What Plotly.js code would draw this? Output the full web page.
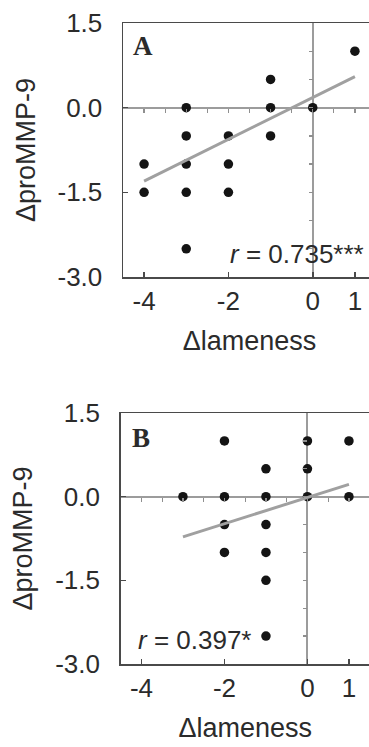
<!DOCTYPE html>
<html><head><meta charset="utf-8">
<script src="https://cdn.plot.ly/plotly-3.0.1.min.js"></script>
<style>html,body{margin:0;padding:0;overflow:hidden;background:#fff;}#chart{width:380px;height:747px;}</style>
</head><body><div id="chart"></div>
<script>
// Panel A data
const lamenessA = [-4,-4,-3,-3,-3,-3,-3,-2,-2,-2,-1,-1,-1,0,1];
const mmpA      = [-1,-1.5,0,-0.5,-1,-1.5,-2.5,-0.5,-1,-1.5,0.5,0,-0.5,0,1];
const fitXA = [-4, 1];
const fitYA = [-1.3, 0.55];
const labelA = "<i>r</i> = 0.735***";
// Panel B data
const lamenessB = [-3,-2,-2,-2,-2,-1,-1,-1,-1,-1,-1,0,0,0,1,1];
const mmpB      = [0,1,0,-0.5,-1,0.5,0,-0.5,-1,-1.5,-2.5,1,0.5,0,1,0];
const fitXB = [-3, 1];
const fitYB = [-0.72, 0.22];
const labelB = "<i>r</i> = 0.397*";
// Ticks
const xTickVals = [-4,-2,0,1];
const xTickText = ["-4","-2","0","1"];
const yTickVals = [1.5,0,-1.5,-3];
const yTickText = ["1.5","0.0","-1.5","-3.0"];
const minorX = [-4,-3.5,-3,-2.5,-2,-1.5,-1,-0.5,0,0.5,1];
const minorY = [1,0.5,0,-0.5,-1,-1.5,-2,-2.5];
const xTitle = "Δlameness";
const yTitle = "ΔproMMP-9";

const W = 380, H = 747;
const FONT = "Liberation Sans, Arial, sans-serif";
const txt = "#2b2b2b";
const axc = "#4a4a4a";

const domA = {x:[123/W, 376/W], y:[1-277/H, 1-23/H]};
const domB = {x:[120.7/W, 369.7/W], y:[1-664/H, 1-413/H]};
const xR = [-4.5, 1.5], yR = [-3, 1.5];

function zeroPos(dom, r, v){ return dom[0] + (v - r[0])/(r[1]-r[0])*(dom[1]-dom[0]); }

function mainX(dom, anchor){
  return {domain:dom.x, range:xR, anchor:anchor, tickmode:'array', tickvals:xTickVals, ticktext:xTickText,
    ticks:'inside', ticklen:5, tickwidth:1.5, tickcolor:axc, showline:true, linecolor:axc, linewidth:1.5, mirror:true,
    zeroline:true, zerolinecolor:'#9c9c9c', zerolinewidth:2, showgrid:false, ticklabelstandoff:0,
    tickfont:{family:FONT, size:26, color:txt},
    title:{text:xTitle, font:{family:FONT, size:27, color:txt}, standoff:16}, automargin:false};
}
function mainY(dom, anchor){
  return {domain:dom.y, range:yR, anchor:anchor, tickmode:'array', tickvals:yTickVals, ticktext:yTickText,
    ticks:'inside', ticklen:5, tickwidth:1.5, tickcolor:axc, showline:true, linecolor:axc, linewidth:1.5, mirror:true,
    zeroline:true, zerolinecolor:'#9c9c9c', zerolinewidth:2, showgrid:false, ticklabelstandoff:14,
    tickfont:{family:FONT, size:26, color:txt},
    title:{text:yTitle, font:{family:FONT, size:27, color:txt}, standoff:14}, automargin:false};
}
function minorXAxis(dom, over){
  return {overlaying:over, anchor:'free', position:zeroPos(dom.y, yR, 0), domain:dom.x, range:xR,
    tickmode:'array', tickvals:minorX, ticks:'outside', ticklen:4, tickwidth:1.3, tickcolor:'#8f8f8f',
    showticklabels:false, showline:false, zeroline:false, showgrid:false};
}
function minorYAxis(dom, over){
  return {overlaying:over, anchor:'free', position:zeroPos(dom.x, xR, 0), domain:dom.y, range:yR, side:'left',
    tickmode:'array', tickvals:minorY, ticks:'outside', ticklen:4, tickwidth:1.3, tickcolor:'#8f8f8f',
    showticklabels:false, showline:false, zeroline:false, showgrid:false};
}

const dotStyle = {size:9.5, color:'#141414'};
const lineStyle = {color:'#a0a0a0', width:3};

const traces = [
  {x:fitXA, y:fitYA, xaxis:'x3', yaxis:'y3', mode:'lines', line:lineStyle, hoverinfo:'skip'},
  {x:lamenessA, y:mmpA, xaxis:'x', yaxis:'y', mode:'markers', marker:dotStyle, cliponaxis:false},
  {x:fitXB, y:fitYB, xaxis:'x4', yaxis:'y4', mode:'lines', line:lineStyle, hoverinfo:'skip'},
  {x:lamenessB, y:mmpB, xaxis:'x2', yaxis:'y2', mode:'markers', marker:dotStyle, cliponaxis:false}
];

const layout = {
  width:W, height:H, margin:{l:0,r:0,t:0,b:0}, showlegend:false,
  paper_bgcolor:'#fff', plot_bgcolor:'rgba(0,0,0,0)',
  xaxis:mainX(domA,'y'), yaxis:mainY(domA,'x'),
  xaxis2:mainX(domB,'y2'), yaxis2:mainY(domB,'x2'),
  xaxis3:minorXAxis(domA,'x'), yaxis3:minorYAxis(domA,'y'),
  xaxis4:minorXAxis(domB,'x2'), yaxis4:minorYAxis(domB,'y2'),
  annotations:[
    {xref:'x', yref:'y', x:-4.3, y:1.09, xanchor:'left', yanchor:'middle', showarrow:false, text:'<b>A</b>',
      font:{family:'Liberation Serif, Times New Roman, serif', size:27, color:'#2b2b2b'}},
    {xref:'x2', yref:'y2', x:-4.27, y:1.06, xanchor:'left', yanchor:'middle', showarrow:false, text:'<b>B</b>',
      font:{family:'Liberation Serif, Times New Roman, serif', size:27, color:'#2b2b2b'}},
    {xref:'x', yref:'y', x:-2.02, y:-2.6, xanchor:'left', yanchor:'middle', showarrow:false, text:labelA,
      font:{family:FONT, size:26, color:txt}},
    {xref:'x2', yref:'y2', x:-4.12, y:-2.57, xanchor:'left', yanchor:'middle', showarrow:false, text:labelB,
      font:{family:FONT, size:26, color:txt}}
  ]
};

Plotly.newPlot('chart', traces, layout, {displayModeBar:false, staticPlot:true});
</script></body></html>
